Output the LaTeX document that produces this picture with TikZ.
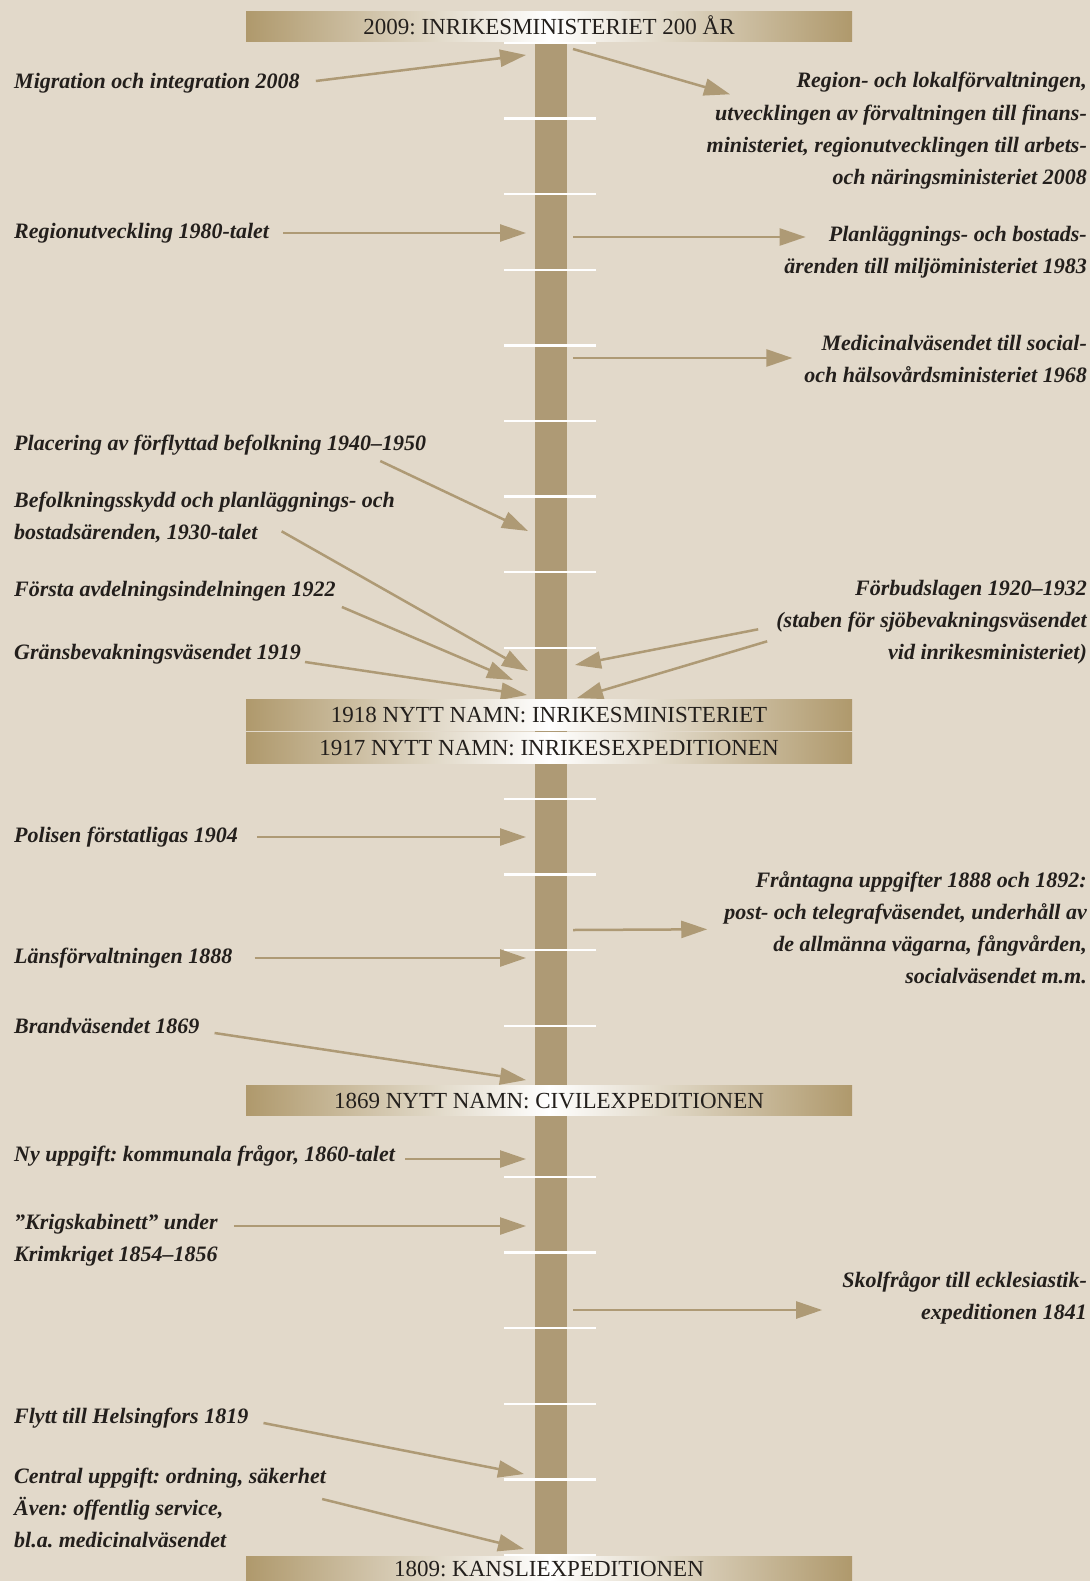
\documentclass[tikz,border=0pt]{standalone}
\usepackage{fontspec}
\setmainfont{Liberation Serif}
\usetikzlibrary{arrows.meta,calc,positioning}
\definecolor{bgbeige}{HTML}{E2D9CA}
\definecolor{coltan}{HTML}{AE9A75}
\definecolor{bantan}{HTML}{AF996C}
\definecolor{ink}{HTML}{231F1C}
\frenchspacing

\begin{document}
\begin{tikzpicture}[x=1pt, y=-1pt, node distance=32.3pt,
  lft/.style={anchor=west, inner sep=0pt, text=ink, text height=15pt, text depth=5pt,
    font=\fontsize{22}{32.3}\selectfont\bfseries\itshape},
  rgt/.style={lft, anchor=east},
  banner/.style={minimum width=606pt, minimum height=30.5pt, inner sep=0pt,
    left color=bantan, right color=bantan, middle color=white, text=ink,
    text height=15.5pt, text depth=0pt, font=\fontsize{23}{26}\selectfont},
  column/.style={fill=coltan, minimum width=32.5pt, minimum height=1514pt, inner sep=0pt},
  tickline/.style={white, line width=2.5pt},
  arr/.style={draw=coltan, line width=2.5pt, -{Triangle[length=26pt,width=17pt]}}]
\path[use as bounding box, clip] (0,0) rectangle (1090,1581);
\fill[bgbeige] (0,0) rectangle (1090,1581);

\node[column] (col) at (550.75,799) {};
\foreach \k in {0,...,20}
  \draw[tickline] (504,{43+75.6*\k}) -- (596,{43+75.6*\k});

% left side
\node[lft] (migr) at (14,84) {Migration och integration 2008};
\node[lft] (regutv) at (14,233) {Regionutveckling 1980-talet};
\node[lft] (placering) at (14,445) {Placering av förflyttad befolkning 1940–1950};
\node[lft] (befolk1) at (14,502) {Befolkningsskydd och planläggnings- och};
\node[lft] (befolk2) [below=of befolk1.west, anchor=west] {bostadsärenden, 1930-talet};
\node[lft] (forsta) at (14,591) {Första avdelningsindelningen 1922};
\node[lft] (grans) at (14,654) {Gränsbevakningsväsendet 1919};
\node[lft] (polisen) at (14,837) {Polisen förstatligas 1904};
\node[lft] (lans) at (14,958) {Länsförvaltningen 1888};
\node[lft] (brand) at (14,1028) {Brandväsendet 1869};
\node[lft] (nyupp) at (14,1156) {Ny uppgift: kommunala frågor, 1860-talet};
\node[lft] (krig1) at (14,1224) {”Krigskabinett” under};
\node[lft] (krig2) [below=of krig1.west, anchor=west] {Krimkriget 1854–1856};
\node[lft] (flytt) at (14,1418) {Flytt till Helsingfors 1819};
\node[lft] (central1) at (14,1478) {Central uppgift: ordning, säkerhet};
\node[lft] (central2) [below=of central1.west, anchor=west] {Även: offentlig service,};
\node[lft] (central3) [below=of central2.west, anchor=west] {bl.a. medicinalväsendet};

% right side
\node[rgt] (region1) at (1087,83) {Region- och lokalförvaltningen,};
\node[rgt] (region2) [below=of region1.east, anchor=east] {utvecklingen av förvaltningen till finans-};
\node[rgt] (region3) [below=of region2.east, anchor=east] {ministeriet, regionutvecklingen till arbets-};
\node[rgt] (region4) [below=of region3.east, anchor=east] {och näringsministeriet 2008};
\node[rgt] (plan1) at (1087,236) {Planläggnings- och bostads-};
\node[rgt] (plan2) [below=of plan1.east, anchor=east] {ärenden till miljöministeriet 1983};
\node[rgt] (medic1) at (1087,345) {Medicinalväsendet till social-};
\node[rgt] (medic2) [below=of medic1.east, anchor=east] {och hälsovårdsministeriet 1968};
\node[rgt] (forbud1) at (1087,590) {Förbudslagen 1920–1932};
\node[rgt] (forbud2) [below=of forbud1.east, anchor=east] {(staben för sjöbevakningsväsendet};
\node[rgt] (forbud3) [below=of forbud2.east, anchor=east] {vid inrikesministeriet)};
\node[rgt] (frant1) at (1087,882) {Fråntagna uppgifter 1888 och 1892:};
\node[rgt] (frant2) [below=of frant1.east, anchor=east] {post- och telegrafväsendet, underhåll av};
\node[rgt] (frant3) [below=of frant2.east, anchor=east] {de allmänna vägarna, fångvården,};
\node[rgt] (frant4) [below=of frant3.east, anchor=east] {socialväsendet m.m.};
\node[rgt] (skol1) at (1087,1282) {Skolfrågor till ecklesiastik-};
\node[rgt] (skol2) [below=of skol1.east, anchor=east] {expeditionen 1841};

% points on the timeline
\coordinate (p-migr) at (526,55);
\coordinate (p-regutv) at (526,233);
\coordinate (p-placering) at (528,531);
\coordinate (p-befolk) at (528,671);
\coordinate (p-forsta) at (513,680);
\coordinate (p-grans) at (527,695);
\coordinate (p-polisen) at (526,837);
\coordinate (p-lans) at (526,958);
\coordinate (p-brand) at (526,1080);
\coordinate (p-nyupp) at (526,1159);
\coordinate (p-krig) at (526,1226);
\coordinate (p-flytt) at (524,1474);
\coordinate (p-central) at (524,1549);
\coordinate (p-region) at (573,49);
\coordinate (p-plan) at (573,237);
\coordinate (p-medic) at (573,358);
\coordinate (p-forbudA) at (575,665);
\coordinate (p-forbudB) at (577,698);
\coordinate (p-frant) at (573,930);
\coordinate (p-skol) at (573,1310);

\draw[arr] ($(migr.east)+(16,-3)$) -- (p-migr);
\draw[arr] ($(regutv.east)+(14,0)$) -- (p-regutv);
\draw[arr] ($(placering.east)+(-46,16)$) -- (p-placering);
\draw[arr] ($(befolk2.east)+(24,-3)$) -- (p-befolk);
\draw[arr] ($(forsta.east)+(6,16)$) -- (p-forsta);
\draw[arr] ($(grans.east)+(4,8)$) -- (p-grans);
\draw[arr] ($(polisen.east)+(19,0)$) -- (p-polisen);
\draw[arr] ($(lans.east)+(22,0)$) -- (p-lans);
\draw[arr] ($(brand.east)+(15,5)$) -- (p-brand);
\draw[arr] ($(nyupp.east)+(10,3)$) -- (p-nyupp);
\draw[arr] ($(krig1.east)+(16,2)$) -- (p-krig);
\draw[arr] ($(flytt.east)+(15,5)$) -- (p-flytt);
\draw[arr] ($(central1.east)+(-4,21)$) -- (p-central);
\draw[arr] (p-region) -- ($(region2.west)+(15,-21)$);
\draw[arr] (p-plan) -- ($(plan1.west)+(-23,1)$);
\draw[arr] (p-medic) -- ($(medic1.west)+(-29,13)$);
\draw[arr] ($(forbud2.west)+(-18,7)$) -- (p-forbudA);
\draw[arr] ($(forbud2.west)+(-9,19)$) -- (p-forbudB);
\draw[arr] (p-frant) -- ($(frant2.west)+(-17,15)$);
\draw[arr] (p-skol) -- ($(skol1.west)+(-20,28)$);

\node[banner] (b2009) at (549,26.5) {2009: INRIKESMINISTERIET 200 ÅR};
\node[banner] (b1918) at (549,715) {1918 NYTT NAMN: INRIKESMINISTERIET};
\node[banner] (b1917) at (549,748) {1917 NYTT NAMN: INRIKESEXPEDITIONEN};
\node[banner] (b1869) at (549,1100.5) {1869 NYTT NAMN: CIVILEXPEDITIONEN};
\node[banner, minimum height=25pt] (b1809) at (549,1568.5) {1809: KANSLIEXPEDITIONEN};
\end{tikzpicture}
\end{document}
